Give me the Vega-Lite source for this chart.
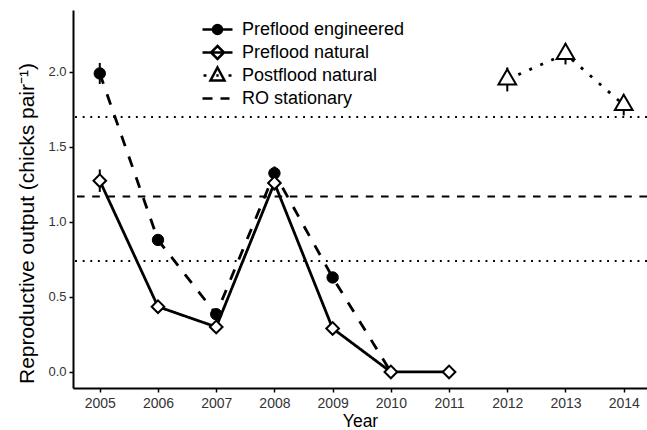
{
  "$schema": "https://vega.github.io/schema/vega-lite/v6.json",
  "width": 574,
  "height": 378,
  "autosize": {"type": "none"},
  "padding": {"left": 73, "top": 10, "right": 0, "bottom": 42},
  "background": "white",
  "config": {
    "view": {"stroke": null},
    "font": "Liberation Sans",
    "axis": {
      "grid": false,
      "domainColor": "black",
      "domainWidth": 2,
      "tickColor": "black",
      "tickWidth": 1.5,
      "tickSize": 4,
      "labelColor": "#333333",
      "titleColor": "black",
      "titleFontWeight": "normal",
      "labelFont": "Liberation Sans",
      "titleFont": "Liberation Sans"
    },
    "legend": {
      "title": null,
      "orient": "none",
      "legendX": 135,
      "legendY": 10,
      "padding": 0,
      "symbolSize": 256,
      "symbolStrokeWidth": 2.5,
      "symbolOpacity": 1,
      "labelFontSize": 18,
      "labelColor": "black",
      "labelFont": "Liberation Sans",
      "labelOffset": 15,
      "labelLimit": 400,
      "rowPadding": -7.8
    }
  },
  "datasets": {
    "obs": [
      {"series": "Preflood engineered", "year": 2005, "ro": 1.99, "lo": 1.92, "hi": 2.06},
      {"series": "Preflood engineered", "year": 2006, "ro": 0.88, "lo": 0.85, "hi": 0.91},
      {"series": "Preflood engineered", "year": 2007, "ro": 0.385, "lo": 0.36, "hi": 0.41},
      {"series": "Preflood engineered", "year": 2008, "ro": 1.325, "lo": 1.28, "hi": 1.37},
      {"series": "Preflood engineered", "year": 2009, "ro": 0.63, "lo": 0.6, "hi": 0.66},
      {"series": "Preflood engineered", "year": 2010, "ro": 0, "lo": 0, "hi": 0},
      {"series": "Preflood natural", "year": 2005, "ro": 1.275, "lo": 1.2, "hi": 1.35},
      {"series": "Preflood natural", "year": 2006, "ro": 0.435, "lo": 0.41, "hi": 0.46},
      {"series": "Preflood natural", "year": 2007, "ro": 0.3, "lo": 0.28, "hi": 0.32},
      {"series": "Preflood natural", "year": 2008, "ro": 1.26, "lo": 1.21, "hi": 1.31},
      {"series": "Preflood natural", "year": 2009, "ro": 0.29, "lo": 0.27, "hi": 0.31},
      {"series": "Preflood natural", "year": 2010, "ro": 0, "lo": 0, "hi": 0},
      {"series": "Preflood natural", "year": 2011, "ro": 0, "lo": 0, "hi": 0},
      {"series": "Postflood natural", "year": 2012, "ro": 1.95, "lo": 1.87, "hi": 2.03},
      {"series": "Postflood natural", "year": 2013, "ro": 2.12, "lo": 2.05, "hi": 2.19},
      {"series": "Postflood natural", "year": 2014, "ro": 1.78, "lo": 1.71, "hi": 1.85}
    ],
    "stationary": [
      {"stat": "mean", "value": 1.17},
      {"stat": "lower", "value": 0.74},
      {"stat": "upper", "value": 1.7}
    ],
    "keys": [
      {"series": "Preflood engineered"},
      {"series": "Preflood natural"},
      {"series": "Postflood natural"},
      {"series": "RO stationary"}
    ]
  },
  "layer": [
    {
      "data": {"name": "stationary"},
      "transform": [{"filter": "datum.stat != 'mean'"}],
      "mark": {"type": "rule", "stroke": "black", "strokeWidth": 1.9, "strokeDash": [1.9, 5.7]},
      "encoding": {
        "y": {"field": "value", "type": "quantitative"}
      }
    },
    {
      "data": {"name": "stationary"},
      "transform": [{"filter": "datum.stat == 'mean'"}],
      "mark": {"type": "rule", "stroke": "black", "strokeWidth": 1.9, "strokeDash": [7.6, 7.6]},
      "encoding": {
        "y": {"field": "value", "type": "quantitative"}
      }
    },
    {
      "data": {"name": "obs"},
      "mark": {"type": "rule", "stroke": "black", "strokeWidth": 2},
      "encoding": {
        "x": {
          "field": "year",
          "type": "quantitative",
          "scale": {"domain": [2004.54, 2014.4], "nice": false, "zero": false},
          "axis": {
            "values": [2005, 2006, 2007, 2008, 2009, 2010, 2011, 2012, 2013, 2014],
            "format": "d",
            "title": "Year",
            "labelFontSize": 14,
            "titleFontSize": 17.5,
            "labelPadding": 4,
            "titlePadding": 2
          }
        },
        "y": {
          "field": "lo",
          "type": "quantitative",
          "scale": {"domain": [-0.107, 2.413], "nice": false, "zero": false},
          "axis": {
            "values": [0, 0.5, 1, 1.5, 2],
            "format": ".1f",
            "title": "Reproductive output (chicks pair⁻¹)",
            "labelFontSize": 13,
            "titleFontSize": 21,
            "labelPadding": 3,
            "titlePadding": 10,
            "titleY": 213
          }
        },
        "y2": {"field": "hi"}
      }
    },
    {
      "data": {"name": "obs"},
      "mark": {"type": "line", "stroke": "black", "strokeWidth": 2.8, "strokeCap": "butt"},
      "encoding": {
        "x": {"field": "year", "type": "quantitative"},
        "y": {"field": "ro", "type": "quantitative"},
        "detail": {"field": "series"},
        "strokeDash": {
          "field": "series",
          "type": "nominal",
          "scale": {
            "domain": ["Preflood engineered", "Preflood natural", "Postflood natural"],
            "range": [[11, 11], [1, 0], [3, 9]]
          },
          "legend": null
        }
      }
    },
    {
      "data": {"name": "obs"},
      "transform": [{"filter": "datum.series == 'Preflood engineered' && datum.year != 2010"}],
      "mark": {"type": "point", "shape": "circle", "fill": "black", "stroke": "black", "strokeWidth": 1, "size": 130, "opacity": 1},
      "encoding": {
        "x": {"field": "year", "type": "quantitative"},
        "y": {"field": "ro", "type": "quantitative"}
      }
    },
    {
      "data": {"name": "obs"},
      "transform": [{"filter": "datum.series == 'Preflood natural'"}],
      "mark": {"type": "point", "shape": "diamond", "fill": "white", "stroke": "black", "strokeWidth": 2, "size": 160, "opacity": 1},
      "encoding": {
        "x": {"field": "year", "type": "quantitative"},
        "y": {"field": "ro", "type": "quantitative"}
      }
    },
    {
      "data": {"name": "obs"},
      "transform": [{"filter": "datum.series == 'Postflood natural'"}],
      "mark": {"type": "point", "shape": "M0,-1L0.866,0.5L-0.866,0.5Z", "fill": "white", "stroke": "black", "strokeWidth": 2, "size": 420, "opacity": 1},
      "encoding": {
        "x": {"field": "year", "type": "quantitative"},
        "y": {"field": "ro", "type": "quantitative"}
      }
    },
    {
      "data": {"name": "keys"},
      "mark": {"type": "point", "opacity": 0},
      "encoding": {
        "shape": {
          "field": "series",
          "type": "nominal",
          "scale": {
            "domain": ["Preflood engineered", "Preflood natural", "Postflood natural", "RO stationary"],
            "range": [
              "M0,-1M0,1M-1.875,0H1.875M0.5625,0A0.5625,0.5625 0 1,1 -0.5625,0A0.5625,0.5625 0 1,1 0.5625,0Z",
              "M0,-1M0,1M-1.875,0H1.875M0,-0.8125L0.8125,0L0,0.8125L-0.8125,0Z",
              "M0,-1M0,1M-1.75,0H-1.375M1.375,0H1.75M-0.15,0H0.15M0,-1L0.875,0.625L-0.875,0.625Z",
              "M0,-1M0,1M-1.875,0H-0.625M0.375,0H1.5"
            ]
          }
        },
        "fill": {
          "field": "series",
          "type": "nominal",
          "scale": {
            "domain": ["Preflood engineered", "Preflood natural", "Postflood natural", "RO stationary"],
            "range": ["black", "transparent", "transparent", "transparent"]
          }
        },
        "stroke": {
          "field": "series",
          "type": "nominal",
          "scale": {
            "domain": ["Preflood engineered", "Preflood natural", "Postflood natural", "RO stationary"],
            "range": ["black", "black", "black", "black"]
          }
        }
      }
    }
  ]
}
